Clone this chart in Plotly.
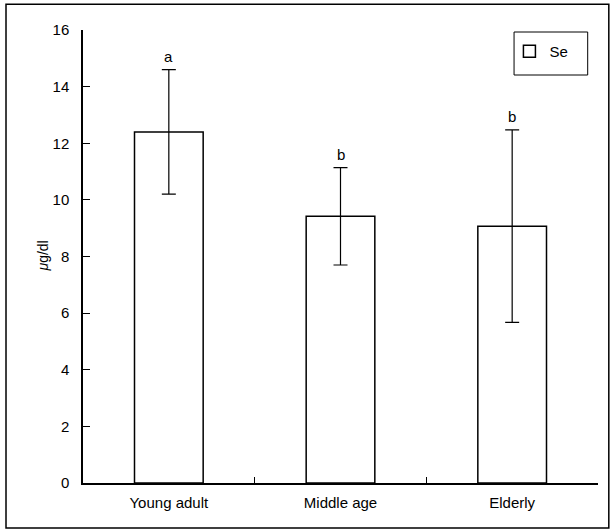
import plotly.graph_objects as go

categories = ["Young adult", "Middle age", "Elderly"]
se_means = [12.4, 9.42, 9.07]
se_errors = [2.2, 1.72, 3.4]
group_letters = ["a", "b", "b"]
y_ticks = [0, 2, 4, 6, 8, 10, 12, 14, 16]

FONT = "Liberation Sans"

fig = go.Figure()
fig.add_trace(go.Bar(
    x=categories, y=se_means, name="Se",
    marker=dict(color="white", line=dict(color="black", width=1.5)),
    error_y=dict(type="data", array=se_errors, visible=True,
                 color="black", thickness=1.2, width=7),
    showlegend=True,
))

for c, m, e, t in zip(categories, se_means, se_errors, group_letters):
    fig.add_annotation(x=c, y=m + e, text=t, showarrow=False,
                       yshift=13, font=dict(size=15, color="black", family=FONT))

fig.add_annotation(xref="paper", yref="paper", x=-0.099, y=0.5,
                   text="<i>μ</i>g/dl", textangle=-90, showarrow=False,
                   font=dict(size=14, color="black", family=FONT))

# outer frame
fig.add_shape(type="rect", xref="paper", yref="paper",
              x0=-0.1495, x1=1.021, y0=-0.0993, y1=1.057,
              line=dict(color="black", width=1.5))
# legend frame
fig.add_shape(type="rect", xref="paper", yref="paper",
              x0=0.837, x1=0.98, y0=(483-75)/453, y1=(483-32)/453,
              line=dict(color="black", width=1))

fig.update_layout(
    width=611, height=532,
    margin=dict(l=83, r=13, t=30, b=49),
    plot_bgcolor="white", paper_bgcolor="white",
    font=dict(family=FONT, size=15, color="black"),
    bargap=0.6,
    showlegend=True,
    legend=dict(x=0.828, y=(483-35)/453, xanchor="left", yanchor="top",
                bgcolor="rgba(0,0,0,0)", borderwidth=0,
                font=dict(size=15, family=FONT)),
    xaxis=dict(showline=True, linecolor="black", linewidth=1.5,
               ticks="inside", ticklen=6, tickcolor="black",
               tickson="boundaries", showgrid=False, zeroline=False,
               ticklabelstandoff=5,
               tickfont=dict(size=15, family=FONT)),
    yaxis=dict(range=[0, 16], tickvals=y_ticks, showline=True,
               linecolor="black", linewidth=1.5, ticks="inside",
               ticklen=7, tickcolor="black", showgrid=False,
               zeroline=False, ticklabelstandoff=9,
               tickfont=dict(size=15, family=FONT)),
)

fig.write_html("out.html", post_script="document.body.style.margin='0';",
               config={"displayModeBar": False})
